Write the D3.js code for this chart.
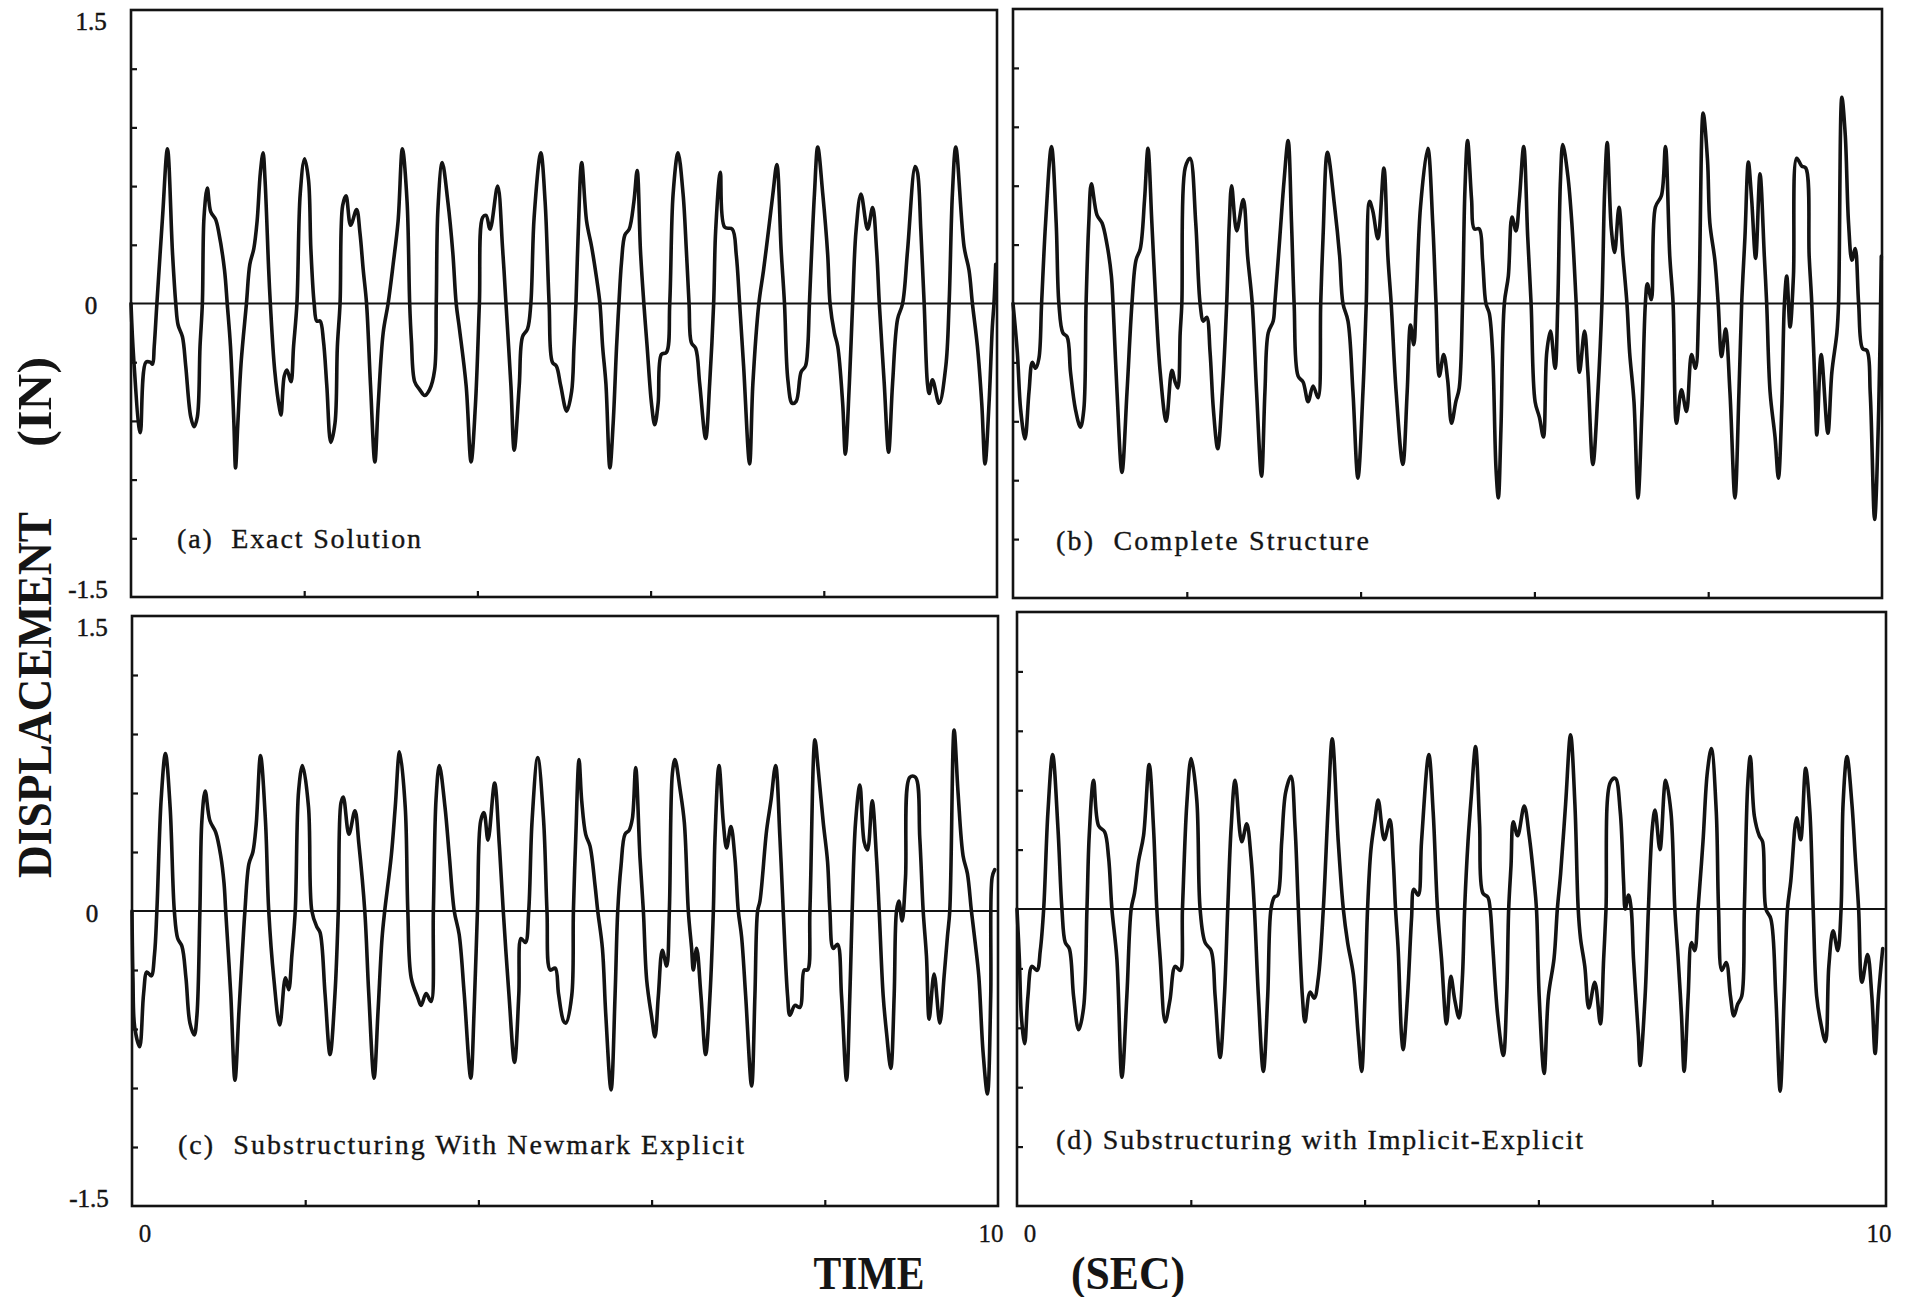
<!DOCTYPE html>
<html><head><meta charset="utf-8">
<script src="https://cdn.jsdelivr.net/npm/d3@7"></script>
<style>
body{margin:0;background:#fff;}
svg{display:block;}
text{font-family:"Liberation Serif","DejaVu Serif",serif;fill:#151515;}
</style>
</head><body>
<svg id="chart" width="1912" height="1297"></svg>
<script>
// ---------- data ----------
const timeDomain = [0, 10];
const dispDomain = [-1.5, 1.5];
const yTickValues = [1.5, 0, -1.5];
const yTickLabels = ["1.5", "0", "-1.5"];
const xTickValues = [0, 10];
const xTickLabels = ["0", "10"];
const minorTimeTicks = [2, 4, 6, 8];
const minorDispTicks = [-1.2, -0.9, -0.6, -0.3, 0.3, 0.6, 0.9, 1.2];
const panelLabels = ["(a)  Exact Solution", "(b)  Complete Structure",
  "(c)  Substructuring With Newmark Explicit", "(d) Substructuring with Implicit-Explicit"];
const yAxisTitle = ["DISPLACEMENT", "(IN)"];
const xAxisTitle = ["TIME", "(SEC)"];

// time (s), displacement (in)
const exactSolution = [[0,0],[0.031,-0.28],[0.107,-0.66],[0.172,-0.30],[0.222,-0.30],[0.249,-0.31],[0.268,-0.22],[0.299,0],[0.364,0.44],[0.421,0.79],[0.479,0.26],[0.517,0],[0.544,-0.11],[0.594,-0.17],[0.632,-0.32],[0.690,-0.58],[0.728,-0.63],[0.766,-0.58],[0.797,-0.22],[0.824,0],[0.843,0.44],[0.881,0.59],[0.920,0.47],[0.977,0.43],[1.015,0.36],[1.080,0.17],[1.111,0],[1.149,-0.22],[1.188,-0.61],[1.207,-0.84],[1.234,-0.61],[1.272,-0.30],[1.333,0],[1.372,0.20],[1.418,0.28],[1.456,0.42],[1.494,0.67],[1.525,0.77],[1.548,0.63],[1.590,0.17],[1.609,0],[1.659,-0.34],[1.716,-0.54],[1.732,-0.57],[1.770,-0.37],[1.801,-0.34],[1.847,-0.40],[1.877,-0.22],[1.916,0],[1.954,0.56],[2.004,0.74],[2.050,0.63],[2.077,0.28],[2.115,0],[2.146,-0.09],[2.184,-0.09],[2.222,-0.19],[2.261,-0.42],[2.307,-0.71],[2.356,-0.61],[2.383,-0.22],[2.414,0],[2.444,0.50],[2.483,0.55],[2.536,0.40],[2.605,0.48],[2.644,0.36],[2.682,0.17],[2.720,0],[2.766,-0.42],[2.816,-0.81],[2.854,-0.52],[2.912,-0.15],[2.969,0],[3.027,0.20],[3.084,0.42],[3.134,0.79],[3.188,0.52],[3.218,0],[3.238,-0.19],[3.276,-0.40],[3.333,-0.44],[3.391,-0.47],[3.448,-0.44],[3.506,-0.34],[3.525,0],[3.544,0.48],[3.594,0.72],[3.659,0.52],[3.716,0.26],[3.755,0],[3.793,-0.13],[3.870,-0.42],[3.927,-0.81],[3.977,-0.52],[4.023,0],[4.061,0.44],[4.100,0.45],[4.146,0.38],[4.234,0.60],[4.291,0.28],[4.330,0],[4.387,-0.42],[4.425,-0.75],[4.483,-0.42],[4.521,-0.17],[4.579,-0.13],[4.617,0],[4.655,0.44],[4.732,0.77],[4.782,0.52],[4.828,0],[4.866,-0.30],[4.912,-0.32],[4.962,-0.42],[5.031,-0.55],[5.088,-0.45],[5.115,-0.22],[5.138,0],[5.165,0.37],[5.204,0.72],[5.261,0.42],[5.319,0.29],[5.376,0.13],[5.415,0],[5.446,-0.22],[5.484,-0.41],[5.530,-0.84],[5.568,-0.61],[5.607,-0.22],[5.634,0],[5.664,0.21],[5.703,0.35],[5.753,0.38],[5.807,0.52],[5.845,0.68],[5.883,0.27],[5.922,0],[5.960,-0.22],[6.010,-0.51],[6.048,-0.62],[6.087,-0.51],[6.125,-0.26],[6.183,-0.25],[6.221,0],[6.260,0.56],[6.317,0.77],[6.375,0.56],[6.413,0.27],[6.444,0],[6.471,-0.20],[6.521,-0.23],[6.567,-0.41],[6.636,-0.69],[6.682,-0.41],[6.728,0],[6.751,0.37],[6.805,0.67],[6.855,0.39],[6.943,0.38],[6.989,0.25],[7.028,0],[7.074,-0.32],[7.143,-0.82],[7.181,-0.41],[7.250,0],[7.304,0.17],[7.366,0.39],[7.412,0.56],[7.458,0.71],[7.508,0.27],[7.546,0],[7.585,-0.39],[7.635,-0.51],[7.681,-0.50],[7.738,-0.35],[7.788,-0.32],[7.815,-0.22],[7.834,0],[7.892,0.56],[7.930,0.80],[7.988,0.56],[8.045,0.25],[8.072,0],[8.122,-0.15],[8.161,-0.22],[8.218,-0.51],[8.249,-0.77],[8.295,-0.41],[8.333,0],[8.372,0.37],[8.429,0.56],[8.506,0.38],[8.564,0.49],[8.610,0.27],[8.641,0],[8.698,-0.41],[8.748,-0.76],[8.794,-0.41],[8.852,-0.08],[8.910,0],[8.967,0.27],[9.055,0.70],[9.082,0.67],[9.121,0.37],[9.159,0],[9.197,-0.41],[9.217,-0.46],[9.255,-0.39],[9.332,-0.51],[9.409,-0.32],[9.447,0],[9.485,0.56],[9.524,0.80],[9.620,0.29],[9.677,0.17],[9.716,0],[9.774,-0.22],[9.824,-0.51],[9.862,-0.82],[9.908,-0.51],[9.946,-0.12],[9.965,0],[9.985,0.2]];

const completeStructure = [[0,0],[0.05,-0.25],[0.088,-0.54],[0.138,-0.69],[0.184,-0.45],[0.222,-0.30],[0.260,-0.33],[0.298,-0.28],[0.329,0],[0.375,0.41],[0.443,0.80],[0.497,0.41],[0.528,0],[0.574,-0.15],[0.623,-0.17],[0.662,-0.35],[0.719,-0.54],[0.776,-0.63],[0.815,-0.54],[0.841,0],[0.872,0.41],[0.902,0.61],[0.967,0.45],[1.025,0.41],[1.082,0.30],[1.132,0.14],[1.151,0],[1.197,-0.45],[1.254,-0.86],[1.312,-0.45],[1.369,0],[1.415,0.22],[1.465,0.28],[1.514,0.53],[1.553,0.79],[1.598,0.41],[1.644,0],[1.694,-0.35],[1.763,-0.60],[1.828,-0.34],[1.866,-0.40],[1.897,-0.43],[1.924,-0.15],[1.943,0],[1.981,0.69],[2.038,0.74],[2.103,0.41],[2.153,0],[2.191,-0.09],[2.229,-0.07],[2.268,-0.25],[2.306,-0.54],[2.356,-0.74],[2.409,-0.45],[2.459,0],[2.489,0.41],[2.516,0.60],[2.574,0.37],[2.650,0.53],[2.700,0.24],[2.753,0],[2.803,-0.45],[2.860,-0.88],[2.899,-0.45],[2.937,-0.15],[2.994,-0.09],[3.013,0],[3.071,0.34],[3.120,0.63],[3.166,0.83],[3.205,0.41],[3.235,0],[3.281,-0.37],[3.338,-0.40],[3.396,-0.50],[3.453,-0.42],[3.511,-0.48],[3.541,0],[3.568,0.34],[3.618,0.77],[3.702,0.49],[3.759,0.24],[3.797,0],[3.855,-0.09],[3.912,-0.45],[3.969,-0.89],[4.027,-0.45],[4.065,0],[4.103,0.52],[4.141,0.47],[4.199,0.33],[4.268,0.69],[4.314,0.24],[4.352,0],[4.409,-0.45],[4.486,-0.82],[4.536,-0.45],[4.574,-0.11],[4.612,-0.21],[4.639,0],[4.689,0.49],[4.773,0.79],[4.830,0.41],[4.868,0],[4.906,-0.37],[4.956,-0.26],[5.002,-0.39],[5.046,-0.61],[5.096,-0.50],[5.135,-0.43],[5.173,0],[5.2,0.57],[5.231,0.83],[5.277,0.53],[5.308,0.38],[5.365,0.38],[5.404,0.22],[5.442,0],[5.481,-0.05],[5.519,-0.25],[5.558,-0.84],[5.585,-0.99],[5.615,-0.64],[5.654,0],[5.7,0.14],[5.742,0.44],[5.788,0.37],[5.827,0.53],[5.877,0.80],[5.923,0.34],[5.962,0],[6.008,-0.50],[6.058,-0.58],[6.104,-0.68],[6.142,-0.25],[6.185,-0.14],[6.238,-0.33],[6.269,0],[6.3,0.63],[6.327,0.81],[6.385,0.65],[6.431,0.41],[6.481,0],[6.519,-0.35],[6.577,-0.14],[6.615,-0.35],[6.673,-0.82],[6.731,-0.45],[6.777,0],[6.808,0.57],[6.838,0.82],[6.885,0.38],[6.923,0.26],[6.973,0.49],[7.019,0.24],[7.065,0],[7.096,-0.25],[7.146,-0.50],[7.192,-0.99],[7.238,-0.54],[7.277,0],[7.3,0.10],[7.346,0.02],[7.392,0.49],[7.462,0.55],[7.508,0.80],[7.558,0.24],[7.596,0],[7.635,-0.61],[7.692,-0.44],[7.75,-0.55],[7.808,-0.26],[7.854,-0.33],[7.892,0],[7.942,0.97],[7.992,0.73],[8.019,0.41],[8.077,0.22],[8.115,0],[8.154,-0.27],[8.2,-0.13],[8.25,-0.45],[8.308,-0.99],[8.354,-0.45],[8.385,0],[8.423,0.34],[8.462,0.72],[8.5,0.53],[8.546,0.23],[8.596,0.66],[8.646,0.24],[8.673,0],[8.712,-0.45],[8.769,-0.68],[8.808,-0.89],[8.846,-0.54],[8.877,0],[8.904,0.14],[8.942,-0.12],[8.981,0.14],[9.019,0.74],[9.077,0.70],[9.123,0.69],[9.162,0.24],[9.192,0],[9.231,-0.45],[9.25,-0.67],[9.3,-0.26],[9.377,-0.66],[9.423,-0.35],[9.481,-0.15],[9.5,0],[9.538,1.05],[9.577,0.86],[9.615,0.41],[9.654,0.22],[9.692,0.28],[9.731,0],[9.777,-0.23],[9.827,-0.24],[9.865,-0.46],[9.915,-1.10],[9.962,-0.54],[9.992,0.24]];

const newmarkExplicit = [[0,0],[0.011,-0.34],[0.031,-0.59],[0.088,-0.69],[0.134,-0.42],[0.172,-0.31],[0.222,-0.33],[0.26,-0.22],[0.287,0],[0.337,0.57],[0.386,0.80],[0.44,0.53],[0.489,0],[0.528,-0.14],[0.577,-0.18],[0.623,-0.34],[0.669,-0.57],[0.719,-0.63],[0.75,-0.53],[0.784,0],[0.807,0.46],[0.845,0.61],[0.899,0.46],[0.967,0.40],[1.025,0.28],[1.063,0.14],[1.082,0],[1.14,-0.42],[1.189,-0.86],[1.235,-0.51],[1.273,-0.22],[1.304,0],[1.35,0.24],[1.396,0.30],[1.434,0.44],[1.484,0.79],[1.541,0.46],[1.579,0],[1.637,-0.34],[1.706,-0.58],[1.771,-0.34],[1.809,-0.40],[1.847,-0.22],[1.885,0],[1.924,0.61],[1.969,0.74],[2.038,0.53],[2.077,0],[2.134,-0.08],[2.172,-0.11],[2.229,-0.42],[2.287,-0.73],[2.344,-0.42],[2.382,0],[2.413,0.55],[2.44,0.58],[2.505,0.39],[2.574,0.51],[2.62,0.34],[2.688,0],[2.734,-0.42],[2.795,-0.85],[2.841,-0.51],[2.887,-0.14],[2.918,0],[2.994,0.28],[3.04,0.53],[3.09,0.81],[3.155,0.53],[3.185,0],[3.224,-0.34],[3.3,-0.44],[3.338,-0.48],[3.396,-0.42],[3.453,-0.46],[3.48,0],[3.511,0.57],[3.549,0.74],[3.614,0.53],[3.664,0.28],[3.721,0],[3.778,-0.12],[3.836,-0.42],[3.912,-0.85],[3.95,-0.51],[3.989,0],[4.027,0.46],[4.065,0.50],[4.111,0.36],[4.187,0.65],[4.241,0.34],[4.287,0],[4.352,-0.42],[4.417,-0.77],[4.467,-0.42],[4.493,-0.14],[4.543,-0.16],[4.581,0],[4.62,0.46],[4.685,0.78],[4.753,0.46],[4.792,0],[4.83,-0.30],[4.887,-0.29],[4.925,-0.42],[4.983,-0.56],[5.009,-0.57],[5.078,-0.43],[5.097,0],[5.124,0.37],[5.162,0.77],[5.193,0.56],[5.239,0.39],[5.289,0.33],[5.347,0.13],[5.378,0],[5.432,-0.19],[5.47,-0.52],[5.532,-0.91],[5.578,-0.43],[5.609,0],[5.647,0.23],[5.693,0.39],[5.74,0.41],[5.778,0.47],[5.816,0.73],[5.866,0.27],[5.905,0],[5.943,-0.35],[6.001,-0.54],[6.039,-0.64],[6.078,-0.43],[6.124,-0.20],[6.174,-0.28],[6.205,0],[6.24,0.70],[6.27,0.77],[6.328,0.62],[6.378,0.45],[6.424,0],[6.462,-0.19],[6.482,-0.30],[6.52,-0.19],[6.57,-0.43],[6.624,-0.73],[6.674,-0.43],[6.713,0],[6.732,0.37],[6.778,0.74],[6.828,0.45],[6.866,0.32],[6.916,0.43],[6.962,0.27],[7.001,0],[7.039,-0.13],[7.086,-0.43],[7.155,-0.89],[7.193,-0.43],[7.224,0],[7.251,0.05],[7.328,0.41],[7.378,0.56],[7.432,0.74],[7.482,0.37],[7.52,0],[7.57,-0.43],[7.597,-0.53],[7.655,-0.48],[7.713,-0.49],[7.762,-0.30],[7.801,-0.30],[7.828,0],[7.886,0.87],[7.924,0.72],[7.982,0.45],[8.032,0.25],[8.059,0],[8.097,-0.19],[8.147,-0.17],[8.193,-0.43],[8.251,-0.86],[8.289,-0.43],[8.316,0],[8.355,0.45],[8.405,0.64],[8.455,0.35],[8.493,0.31],[8.547,0.56],[8.597,0.27],[8.628,0],[8.674,-0.43],[8.713,-0.62],[8.762,-0.80],[8.801,-0.43],[8.828,0],[8.855,0.05],[8.893,-0.05],[8.932,0.17],[8.982,0.68],[9.047,0.68],[9.097,0.37],[9.136,0],[9.174,-0.23],[9.205,-0.55],[9.262,-0.32],[9.328,-0.57],[9.378,-0.33],[9.416,-0.13],[9.443,0],[9.493,0.92],[9.539,0.60],[9.597,0.28],[9.647,0.19],[9.693,0],[9.739,-0.17],[9.778,-0.33],[9.828,-0.72],[9.878,-0.93],[9.916,-0.43],[9.932,0.17],[9.962,0.21]];

const implicitExplicit = [[0,0],[0.027,-0.25],[0.05,-0.54],[0.088,-0.68],[0.126,-0.44],[0.172,-0.29],[0.23,-0.31],[0.268,-0.21],[0.307,0],[0.356,0.49],[0.41,0.78],[0.471,0.41],[0.517,0],[0.556,-0.17],[0.602,-0.20],[0.651,-0.44],[0.709,-0.61],[0.766,-0.50],[0.805,0],[0.831,0.37],[0.881,0.65],[0.939,0.42],[1.008,0.39],[1.054,0.26],[1.092,0],[1.149,-0.25],[1.207,-0.85],[1.264,-0.44],[1.314,0],[1.352,0.08],[1.398,0.24],[1.456,0.37],[1.521,0.73],[1.571,0.41],[1.609,0],[1.648,-0.25],[1.705,-0.57],[1.76,-0.46],[1.82,-0.29],[1.877,-0.31],[1.904,0],[1.954,0.53],[2.004,0.76],[2.069,0.55],[2.107,0],[2.165,-0.17],[2.234,-0.21],[2.28,-0.44],[2.337,-0.75],[2.387,-0.44],[2.425,0],[2.464,0.41],[2.51,0.65],[2.586,0.34],[2.644,0.43],[2.693,0.26],[2.732,0],[2.778,-0.44],[2.835,-0.82],[2.885,-0.44],[2.923,0],[2.962,0.06],[3.0,0.07],[3.046,0.34],[3.092,0.59],[3.153,0.67],[3.2,0.41],[3.238,0],[3.284,-0.44],[3.314,-0.57],[3.372,-0.42],[3.421,-0.45],[3.467,-0.35],[3.525,0],[3.582,0.53],[3.628,0.86],[3.697,0.34],[3.755,0],[3.805,-0.17],[3.87,-0.33],[3.927,-0.64],[3.966,-0.82],[4.004,-0.44],[4.034,0],[4.073,0.30],[4.119,0.45],[4.157,0.55],[4.226,0.35],[4.291,0.45],[4.33,0.24],[4.356,0],[4.387,-0.21],[4.425,-0.64],[4.444,-0.71],[4.494,-0.44],[4.54,-0.05],[4.567,0.10],[4.617,0.07],[4.655,0.34],[4.739,0.78],[4.789,0.49],[4.839,0],[4.885,-0.25],[4.943,-0.58],[4.992,-0.34],[5.038,-0.46],[5.087,-0.55],[5.125,-0.35],[5.151,0],[5.19,0.34],[5.228,0.57],[5.277,0.82],[5.323,0.43],[5.361,0.08],[5.418,0.06],[5.445,0],[5.475,-0.19],[5.532,-0.54],[5.597,-0.74],[5.635,-0.44],[5.658,0],[5.685,0.22],[5.711,0.44],[5.761,0.37],[5.837,0.52],[5.894,0.37],[5.951,0.14],[5.978,0],[6.009,-0.44],[6.066,-0.83],[6.115,-0.44],[6.18,-0.25],[6.218,0],[6.256,0.18],[6.313,0.53],[6.37,0.88],[6.42,0.53],[6.458,0],[6.485,-0.15],[6.534,-0.29],[6.58,-0.50],[6.649,-0.37],[6.713,-0.58],[6.751,-0.25],[6.778,0],[6.828,0.64],[6.885,0.66],[6.942,0.49],[6.98,0.14],[6.999,0],[7.037,0.07],[7.068,0],[7.094,-0.25],[7.151,-0.64],[7.17,-0.79],[7.228,-0.44],[7.266,0],[7.311,0.41],[7.342,0.50],[7.399,0.30],[7.464,0.65],[7.525,0.49],[7.57,0],[7.608,-0.25],[7.647,-0.54],[7.677,-0.82],[7.723,-0.44],[7.761,-0.17],[7.799,-0.21],[7.837,0],[7.894,0.34],[7.944,0.69],[7.99,0.81],[8.047,0.49],[8.073,0],[8.111,-0.31],[8.161,-0.27],[8.21,-0.44],[8.249,-0.54],[8.294,-0.48],[8.34,-0.44],[8.37,0],[8.409,0.63],[8.439,0.77],[8.485,0.47],[8.542,0.37],[8.58,0.34],[8.618,0],[8.675,-0.05],[8.732,-0.44],[8.782,-0.92],[8.828,-0.44],[8.866,0],[8.904,0.14],[8.972,0.46],[9.018,0.35],[9.075,0.71],[9.124,0.49],[9.162,0],[9.202,-0.44],[9.247,-0.57],[9.304,-0.67],[9.342,-0.29],[9.391,-0.11],[9.445,-0.21],[9.483,0],[9.506,0.53],[9.551,0.77],[9.608,0.53],[9.647,0.26],[9.685,0],[9.723,-0.37],[9.788,-0.23],[9.837,-0.44],[9.875,-0.73],[9.913,-0.44],[9.962,-0.20]];

const series = [exactSolution, completeStructure, newmarkExplicit, implicitExplicit];

// ---------- layout (pixels) ----------
const layout = [
  {x:[131, 997],  y:[597, 10],   label:[177, 548, 244],  yLab:true,  xLab:false},
  {x:[1013, 1882], y:[598, 9],   label:[1056, 550, 313], yLab:false, xLab:false},
  {x:[132, 998],  y:[1206, 616], label:[178, 1154, 566], yLab:true,  xLab:true},
  {x:[1017, 1886], y:[1206, 612], label:[1056, 1149, 527], yLab:false, xLab:true}
];

const svg = d3.select("#chart");
const ink = "#131313";

layout.forEach((L, i) => {
  const x = d3.scaleLinear().domain(timeDomain).range(L.x);
  const y = d3.scaleLinear().domain(dispDomain).range(L.y);
  const g = svg.append("g");

  // frame
  g.append("rect")
    .attr("x", L.x[0]).attr("y", L.y[1])
    .attr("width", L.x[1] - L.x[0]).attr("height", L.y[0] - L.y[1])
    .attr("fill", "none").attr("stroke", ink).attr("stroke-width", 2.6);

  // inward minor ticks
  const ya = g.append("g").attr("transform", `translate(${L.x[0]},0)`)
    .call(d3.axisLeft(y).tickValues(minorDispTicks).tickSize(-6).tickFormat(""));
  const xa = g.append("g").attr("transform", `translate(0,${L.y[0]})`)
    .call(d3.axisBottom(x).tickValues(minorTimeTicks).tickSize(-6).tickFormat(""));
  [ya, xa].forEach(a => {
    a.select(".domain").remove();
    a.selectAll("line").attr("stroke", ink).attr("stroke-width", 2.2);
  });

  // zero line
  g.append("line")
    .attr("x1", x(0)).attr("x2", x(10)).attr("y1", y(0)).attr("y2", y(0))
    .attr("stroke", ink).attr("stroke-width", 2);

  // signal
  const line = d3.line().x(d => x(d[0])).y(d => y(d[1])).curve(d3.curveCatmullRom.alpha(0.5));
  g.append("path").datum(series[i])
    .attr("d", line).attr("fill", "none")
    .attr("stroke", ink).attr("stroke-width", 3.6)
    .attr("stroke-linejoin", "round").attr("stroke-linecap", "round");

  // panel label
  g.append("text")
    .attr("x", L.label[0]).attr("y", L.label[1])
    .attr("font-size", 28)
    .attr("stroke", ink).attr("stroke-width", 0.35)
    .attr("textLength", L.label[2]).attr("lengthAdjust", "spacing")
    .style("white-space", "pre")
    .text(panelLabels[i]);

  // y tick labels
  if (L.yLab) {
    yTickValues.forEach((v, k) => {
      const off = v > 0 ? 11 : (v < 0 ? -8 : 2);
      g.append("text")
        .attr("x", v < 0 ? L.x[0] - 43 : L.x[0] - 40)
        .attr("y", y(v) + off)
        .attr("text-anchor", "middle").attr("dominant-baseline", "central")
        .attr("font-size", 25)
        .attr("stroke", ink).attr("stroke-width", 0.5)
        .text(yTickLabels[k]);
    });
  }
  // x tick labels
  if (L.xLab) {
    xTickValues.forEach((v, k) => {
      g.append("text")
        .attr("x", x(v) + (v === 0 ? 13 : -7))
        .attr("y", L.y[0] + 27)
        .attr("text-anchor", "middle").attr("dominant-baseline", "central")
        .attr("font-size", 25)
        .attr("stroke", ink).attr("stroke-width", 0.3)
        .text(xTickLabels[k]);
    });
  }
});

// axis titles
svg.append("text")
  .attr("transform", "translate(34,695) rotate(-90)")
  .attr("text-anchor", "middle").attr("dominant-baseline", "central")
  .attr("font-size", 48).attr("font-weight", "bold")
  .attr("textLength", 366).attr("lengthAdjust", "spacingAndGlyphs")
  .text(yAxisTitle[0]);
svg.append("text")
  .attr("transform", "translate(34,402) rotate(-90)")
  .attr("text-anchor", "middle").attr("dominant-baseline", "central")
  .attr("font-size", 48).attr("font-weight", "bold")
  .attr("textLength", 90).attr("lengthAdjust", "spacingAndGlyphs")
  .text(yAxisTitle[1]);
svg.append("text")
  .attr("x", 869).attr("y", 1273)
  .attr("text-anchor", "middle").attr("dominant-baseline", "central")
  .attr("font-size", 46).attr("font-weight", "bold")
  .attr("textLength", 111).attr("lengthAdjust", "spacingAndGlyphs")
  .text(xAxisTitle[0]);
svg.append("text")
  .attr("x", 1128).attr("y", 1273)
  .attr("text-anchor", "middle").attr("dominant-baseline", "central")
  .attr("font-size", 46).attr("font-weight", "bold")
  .attr("textLength", 114).attr("lengthAdjust", "spacingAndGlyphs")
  .text(xAxisTitle[1]);
</script>
</body></html>
